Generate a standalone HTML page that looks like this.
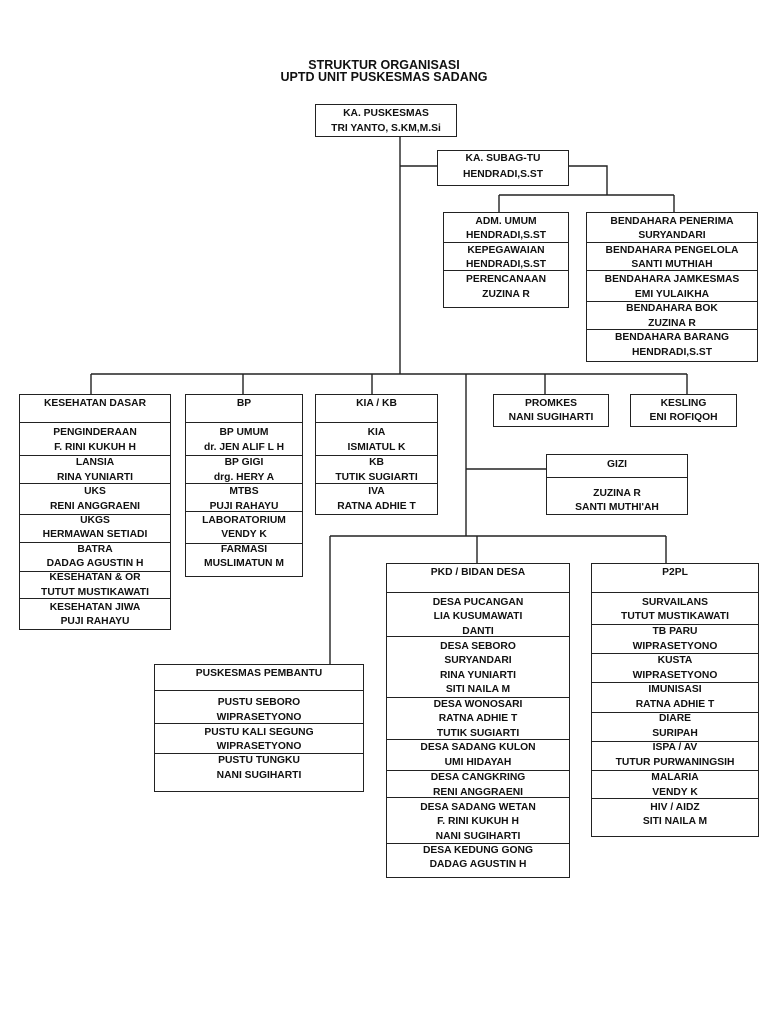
<!DOCTYPE html>
<html><head><meta charset="utf-8">
<style>
html,body{margin:0;padding:0;background:#fff}
#p{position:relative;width:768px;height:1024px;overflow:hidden;background:#fff;font-family:"Liberation Sans",Arial,sans-serif;color:#111}
.b{position:absolute;border:1px solid #222;box-sizing:border-box}
.t{position:absolute;left:-10px;right:-10px;text-align:center;font-weight:bold;font-size:10.3px;line-height:14px;height:14px;white-space:nowrap;margin-top:-7px}
.d{position:absolute;left:0;right:0;border-top:1px solid #222;height:0}
.h{position:absolute;left:0;right:0;text-align:center;font-weight:bold;font-size:12.5px;line-height:14px;white-space:nowrap}
svg{position:absolute;left:0;top:0}
</style></head><body><div id="p">
<svg width="768" height="1024"><g stroke="#222" stroke-width="1.4" fill="none">
<path d="M400 136V374M400 166H437M568 166H607V195M499 195H674M499 195V212M674 195V212"/>
<path d="M91 374H687M91 374V394M243 374V394M372 374V394M545 374V394M687 374V394"/>
<path d="M466 374V536M466 469H546M330 536H666M330 536V664M477 536V563M666 536V563"/>
</g></svg>
<div class="h" style="top:58px">STRUKTUR ORGANISASI</div>
<div class="h" style="top:70px">UPTD UNIT PUSKESMAS SADANG</div>

<div class="b" style="left:315px;top:104px;width:142px;height:33px">
<div class="t" style="top:9px">KA. PUSKESMAS</div><div class="t" style="top:24px">TRI YANTO, S.KM,M.Si</div></div>

<div class="b" style="left:437px;top:150px;width:132px;height:36px">
<div class="t" style="top:8px">KA. SUBAG-TU</div><div class="t" style="top:24px">HENDRADI,S.ST</div></div>

<div class="b" style="left:443px;top:212px;width:126px;height:96px">
<div class="t" style="top:9px">ADM. UMUM</div><div class="t" style="top:23px">HENDRADI,S.ST</div>
<div class="d" style="top:29px"></div>
<div class="t" style="top:38px">KEPEGAWAIAN</div><div class="t" style="top:52px">HENDRADI,S.ST</div>
<div class="d" style="top:57px"></div>
<div class="t" style="top:67px">PERENCANAAN</div><div class="t" style="top:82px">ZUZINA R</div></div>

<div class="b" style="left:586px;top:212px;width:172px;height:150px">
<div class="t" style="top:9px">BENDAHARA PENERIMA</div><div class="t" style="top:23px">SURYANDARI</div>
<div class="d" style="top:29px"></div>
<div class="t" style="top:38px">BENDAHARA PENGELOLA</div><div class="t" style="top:52px">SANTI MUTHIAH</div>
<div class="d" style="top:57px"></div>
<div class="t" style="top:67px">BENDAHARA JAMKESMAS</div><div class="t" style="top:82px">EMI YULAIKHA</div>
<div class="d" style="top:88px"></div>
<div class="t" style="top:96px">BENDAHARA BOK</div><div class="t" style="top:111px">ZUZINA R</div>
<div class="d" style="top:116px"></div>
<div class="t" style="top:125px">BENDAHARA BARANG</div><div class="t" style="top:140px">HENDRADI,S.ST</div></div>

<div class="b" style="left:19px;top:394px;width:152px;height:236px">
<div class="t" style="top:9px">KESEHATAN DASAR</div><div class="d" style="top:27px"></div>
<div class="t" style="top:38px">PENGINDERAAN</div><div class="t" style="top:53px">F. RINI KUKUH H</div>
<div class="d" style="top:60px"></div>
<div class="t" style="top:68px">LANSIA</div><div class="t" style="top:83px">RINA YUNIARTI</div>
<div class="d" style="top:88px"></div>
<div class="t" style="top:97px">UKS</div><div class="t" style="top:112px">RENI ANGGRAENI</div>
<div class="d" style="top:119px"></div>
<div class="t" style="top:126px">UKGS</div><div class="t" style="top:140px">HERMAWAN SETIADI</div>
<div class="d" style="top:147px"></div>
<div class="t" style="top:155px">BATRA</div><div class="t" style="top:169px">DADAG AGUSTIN H</div>
<div class="d" style="top:176px"></div>
<div class="t" style="top:183px">KESEHATAN &amp; OR</div><div class="t" style="top:198px">TUTUT MUSTIKAWATI</div>
<div class="d" style="top:203px"></div>
<div class="t" style="top:213px">KESEHATAN JIWA</div><div class="t" style="top:227px">PUJI RAHAYU</div></div>

<div class="b" style="left:185px;top:394px;width:118px;height:183px">
<div class="t" style="top:9px">BP</div><div class="d" style="top:27px"></div>
<div class="t" style="top:38px">BP UMUM</div><div class="t" style="top:53px">dr. JEN ALIF L H</div>
<div class="d" style="top:60px"></div>
<div class="t" style="top:68px">BP GIGI</div><div class="t" style="top:83px">drg. HERY A</div>
<div class="d" style="top:88px"></div>
<div class="t" style="top:97px">MTBS</div><div class="t" style="top:112px">PUJI RAHAYU</div>
<div class="d" style="top:116px"></div>
<div class="t" style="top:126px">LABORATORIUM</div><div class="t" style="top:140px">VENDY K</div>
<div class="d" style="top:148px"></div>
<div class="t" style="top:155px">FARMASI</div><div class="t" style="top:169px">MUSLIMATUN M</div></div>

<div class="b" style="left:315px;top:394px;width:123px;height:121px">
<div class="t" style="top:9px">KIA / KB</div><div class="d" style="top:27px"></div>
<div class="t" style="top:38px">KIA</div><div class="t" style="top:53px">ISMIATUL K</div>
<div class="d" style="top:60px"></div>
<div class="t" style="top:68px">KB</div><div class="t" style="top:83px">TUTIK SUGIARTI</div>
<div class="d" style="top:88px"></div>
<div class="t" style="top:97px">IVA</div><div class="t" style="top:112px">RATNA ADHIE T</div></div>

<div class="b" style="left:493px;top:394px;width:116px;height:33px">
<div class="t" style="top:9px">PROMKES</div><div class="t" style="top:23px">NANI SUGIHARTI</div></div>

<div class="b" style="left:630px;top:394px;width:107px;height:33px">
<div class="t" style="top:9px">KESLING</div><div class="t" style="top:23px">ENI ROFIQOH</div></div>

<div class="b" style="left:546px;top:454px;width:142px;height:61px">
<div class="t" style="top:10px">GIZI</div><div class="d" style="top:22px"></div>
<div class="t" style="top:39px">ZUZINA R</div><div class="t" style="top:53px">SANTI MUTHI'AH</div></div>

<div class="b" style="left:386px;top:563px;width:184px;height:315px">
<div class="t" style="top:9px">PKD / BIDAN DESA</div><div class="d" style="top:28px"></div>
<div class="t" style="top:39px">DESA PUCANGAN</div><div class="t" style="top:53px">LIA KUSUMAWATI</div><div class="t" style="top:68px">DANTI</div>
<div class="d" style="top:72px"></div>
<div class="t" style="top:83px">DESA SEBORO</div><div class="t" style="top:97px">SURYANDARI</div><div class="t" style="top:112px">RINA YUNIARTI</div><div class="t" style="top:126px">SITI NAILA M</div>
<div class="d" style="top:133px"></div>
<div class="t" style="top:141px">DESA WONOSARI</div><div class="t" style="top:155px">RATNA ADHIE T</div><div class="t" style="top:170px">TUTIK SUGIARTI</div>
<div class="d" style="top:175px"></div>
<div class="t" style="top:184px">DESA SADANG KULON</div><div class="t" style="top:199px">UMI HIDAYAH</div>
<div class="d" style="top:206px"></div>
<div class="t" style="top:214px">DESA CANGKRING</div><div class="t" style="top:229px">RENI ANGGRAENI</div>
<div class="d" style="top:233px"></div>
<div class="t" style="top:244px">DESA SADANG WETAN</div><div class="t" style="top:258px">F. RINI KUKUH H</div><div class="t" style="top:273px">NANI SUGIHARTI</div>
<div class="d" style="top:279px"></div>
<div class="t" style="top:287px">DESA KEDUNG GONG</div><div class="t" style="top:301px">DADAG AGUSTIN H</div></div>

<div class="b" style="left:591px;top:563px;width:168px;height:274px">
<div class="t" style="top:9px">P2PL</div><div class="d" style="top:28px"></div>
<div class="t" style="top:39px">SURVAILANS</div><div class="t" style="top:53px">TUTUT MUSTIKAWATI</div>
<div class="d" style="top:60px"></div>
<div class="t" style="top:68px">TB PARU</div><div class="t" style="top:83px">WIPRASETYONO</div>
<div class="d" style="top:89px"></div>
<div class="t" style="top:97px">KUSTA</div><div class="t" style="top:112px">WIPRASETYONO</div>
<div class="d" style="top:118px"></div>
<div class="t" style="top:126px">IMUNISASI</div><div class="t" style="top:141px">RATNA ADHIE T</div>
<div class="d" style="top:148px"></div>
<div class="t" style="top:155px">DIARE</div><div class="t" style="top:170px">SURIPAH</div>
<div class="d" style="top:177px"></div>
<div class="t" style="top:184px">ISPA / AV</div><div class="t" style="top:199px">TUTUR PURWANINGSIH</div>
<div class="d" style="top:206px"></div>
<div class="t" style="top:214px">MALARIA</div><div class="t" style="top:229px">VENDY K</div>
<div class="d" style="top:234px"></div>
<div class="t" style="top:244px">HIV / AIDZ</div><div class="t" style="top:258px">SITI NAILA M</div></div>

<div class="b" style="left:154px;top:664px;width:210px;height:128px">
<div class="t" style="top:9px">PUSKESMAS PEMBANTU</div><div class="d" style="top:25px"></div>
<div class="t" style="top:38px">PUSTU SEBORO</div><div class="t" style="top:53px">WIPRASETYONO</div>
<div class="d" style="top:58px"></div>
<div class="t" style="top:68px">PUSTU KALI SEGUNG</div><div class="t" style="top:82px">WIPRASETYONO</div>
<div class="d" style="top:88px"></div>
<div class="t" style="top:96px">PUSTU TUNGKU</div><div class="t" style="top:111px">NANI SUGIHARTI</div></div>
</div></body></html>
